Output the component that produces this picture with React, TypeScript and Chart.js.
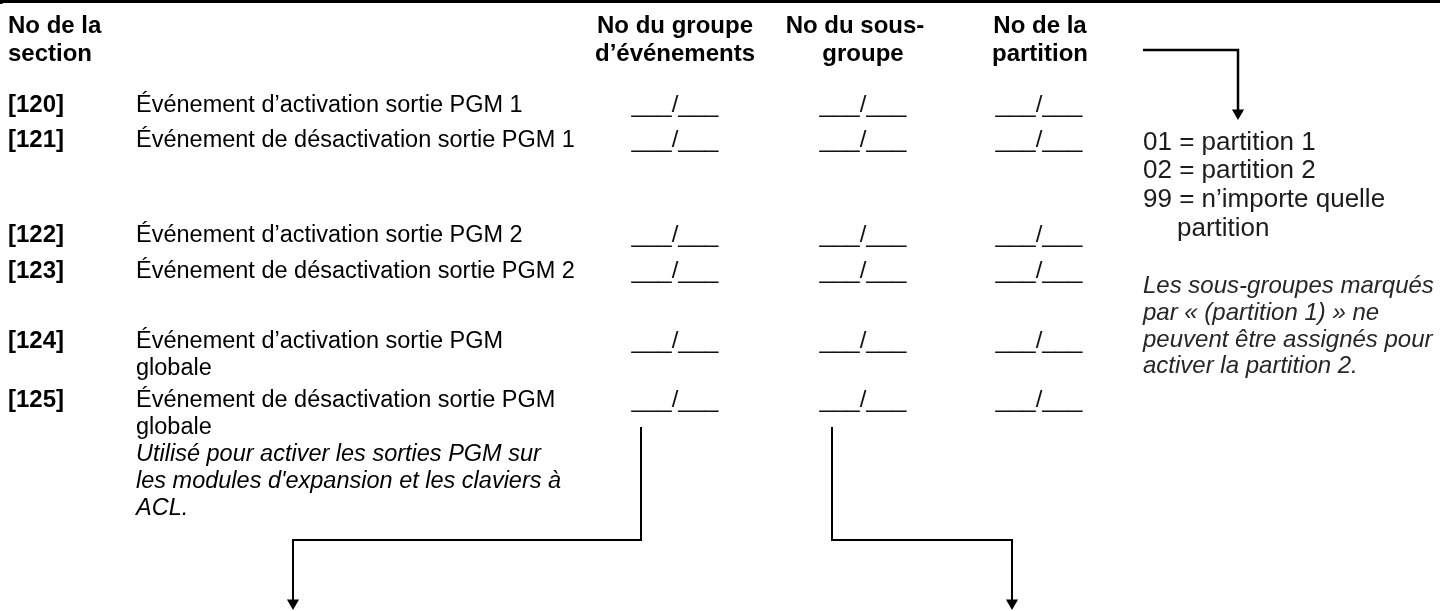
import React, { useEffect, useRef } from "react";
import { Chart, registerables } from "chart.js";

Chart.register(...registerables);

// ---------- content ----------
const sectionHeader = ["No de la", "section"];
const columnHeaders = [
  ["No du groupe", "d’événements"],
  ["No du sous-", "groupe"],
  ["No de la", "partition"],
];
const sectionCodes = ["[120]", "[121]", "[122]", "[123]", "[124]", "[125]"];
const descriptions = [
  ["Événement d’activation sortie PGM 1"],
  ["Événement de désactivation sortie PGM 1"],
  ["Événement d’activation sortie PGM 2"],
  ["Événement de désactivation sortie PGM 2"],
  ["Événement d’activation sortie PGM", "globale"],
  ["Événement de désactivation sortie PGM", "globale"],
];
const footnote125 = [
  "Utilisé pour activer les sorties PGM sur",
  "les modules d'expansion et les claviers à",
  "ACL.",
];
const blankEntry = "___/___";
const partitionCodes = [
  "01 = partition 1",
  "02 = partition 2",
  "99 = n’importe quelle",
  "partition",
];
const partitionNote = [
  "Les sous-groupes marqués",
  "par « (partition 1) » ne",
  "peuvent être assignés pour",
  "activer la partition 2.",
];

// ---------- layout (page coordinates, text baselines) ----------
const PAGE_W = 1440;
const PAGE_H = 611;
const codeX = 8;
const descX = 136;
const lineGap = 27;
const headerBaselines = [33, 61];
const headerCenters = [
  [675, 675],
  [855, 863],
  [1040, 1040],
];
const rowBaselines = [112, 147, 242, 278, 348, 407];
const blankCenters = [675, 863, 1039];
const legendX = 1143;
const legendBaselines = [150, 178, 207, 236];
const legendIndent = [0, 0, 0, 34];
const noteBaselines = [293, 320, 347, 373];

const framePaths = [
  [
    [0, 1.5],
    [PAGE_W, 1.5],
  ],
  [
    [1, 0],
    [1, 4],
  ],
];
const connectorPaths = [
  [
    [641, 427],
    [641, 540],
    [293, 540],
    [293, 603],
  ],
  [
    [832, 427],
    [832, 540],
    [1012, 540],
    [1012, 603],
  ],
  [
    [1143, 50],
    [1238, 50],
    [1238, 113],
  ],
];

const FONT = "'Liberation Sans', Arial, Helvetica, sans-serif";

const textPlugin = {
  id: "formText",
  afterDatasetsDraw(chart: any) {
    const { ctx } = chart;
    const sx = chart.scales.x;
    const sy = chart.scales.y;
    const X = (v: number) => sx.getPixelForValue(v);
    const Y = (v: number) => sy.getPixelForValue(v);
    ctx.save();
    ctx.fillStyle = "#000";
    ctx.textBaseline = "alphabetic";

    // headers
    ctx.font = `bold 24px ${FONT}`;
    ctx.textAlign = "left";
    sectionHeader.forEach((t, i) => ctx.fillText(t, X(codeX), Y(headerBaselines[i])));
    ctx.textAlign = "center";
    columnHeaders.forEach((lines, c) =>
      lines.forEach((t, i) => ctx.fillText(t, X(headerCenters[c][i]), Y(headerBaselines[i])))
    );

    // rows
    ctx.textAlign = "left";
    sectionCodes.forEach((code, r) => {
      ctx.font = `bold 24px ${FONT}`;
      ctx.fillText(code, X(codeX), Y(rowBaselines[r]));
      ctx.font = `23.5px ${FONT}`;
      descriptions[r].forEach((t, i) =>
        ctx.fillText(t, X(descX), Y(rowBaselines[r] + i * lineGap))
      );
    });
    ctx.font = `italic 23.5px ${FONT}`;
    const lastRow = rowBaselines.length - 1;
    const base = rowBaselines[lastRow] + descriptions[lastRow].length * lineGap;
    footnote125.forEach((t, i) => ctx.fillText(t, X(descX), Y(base + i * lineGap)));

    // blanks ___/___
    ctx.font = `24px ${FONT}`;
    ctx.textAlign = "center";
    ctx.fillStyle = "#111";
    rowBaselines.forEach((rb) => {
      blankCenters.forEach((cx) => ctx.fillText(blankEntry, X(cx), Y(rb)));
    });

    // legend (right)
    ctx.textAlign = "left";
    ctx.fillStyle = "#1c1c1c";
    ctx.font = `26px ${FONT}`;
    partitionCodes.forEach((t, i) =>
      ctx.fillText(t, X(legendX + legendIndent[i]), Y(legendBaselines[i]))
    );
    ctx.font = `italic 24px ${FONT}`;
    ctx.fillStyle = "#262626";
    partitionNote.forEach((t, i) => ctx.fillText(t, X(legendX), Y(noteBaselines[i])));
    ctx.restore();
  },
};

function pathDataset(path: number[][], width: number, arrow: boolean) {
  return {
    type: "line" as const,
    data: path.map(([x, y]) => ({ x, y })),
    borderColor: "#000",
    borderWidth: width,
    backgroundColor: "#000",
    pointStyle: "triangle" as const,
    pointRotation: 180,
    pointBorderWidth: 0,
    pointBackgroundColor: "#000",
    pointRadius: path.map((_, i) => (arrow && i === path.length - 1 ? 7 : 0)),
    fill: false,
    tension: 0,
    showLine: true,
    borderCapStyle: "butt" as const,
    borderJoinStyle: "miter" as const,
    clip: false as any,
  };
}

export default function App() {
  const ref = useRef<HTMLCanvasElement | null>(null);
  useEffect(() => {
    if (!ref.current) return;
    const chart = new Chart(ref.current, {
      type: "scatter",
      data: {
        datasets: [
          ...framePaths.map((p) => pathDataset(p, 3, false)),
          ...connectorPaths.map((p, i) => pathDataset(p, i === 2 ? 2.5 : 2, true)),
        ] as any,
      },
      options: {
        animation: false,
        responsive: true,
        maintainAspectRatio: false,
        events: [],
        layout: { padding: 0, autoPadding: false },
        plugins: {
          legend: { display: false },
          tooltip: { enabled: false },
          title: { display: false },
        },
        scales: {
          x: { type: "linear", min: 0, max: PAGE_W, display: false },
          y: { type: "linear", min: 0, max: PAGE_H, reverse: true, display: false },
        },
      },
      plugins: [textPlugin],
    });
    return () => chart.destroy();
  }, []);
  return (
    <div
      style={{
        position: "fixed",
        left: 0,
        top: 0,
        width: PAGE_W,
        height: PAGE_H,
        background: "#fff",
      }}
    >
      <canvas ref={ref} />
    </div>
  );
}
